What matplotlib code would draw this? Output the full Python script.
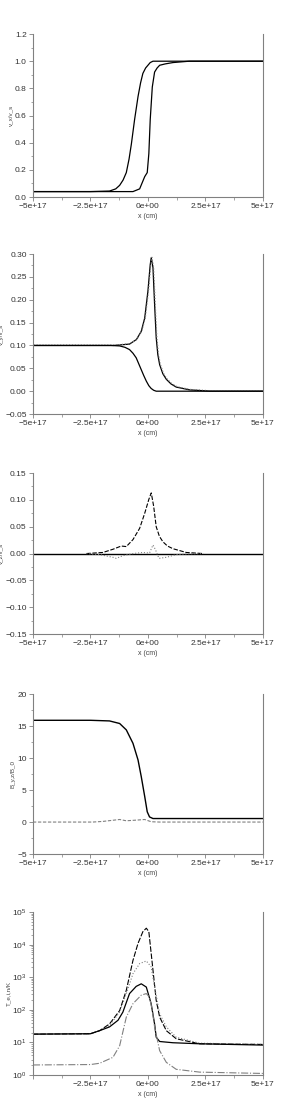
import matplotlib
matplotlib.use("Agg")
import matplotlib.pyplot as plt
from matplotlib.ticker import MultipleLocator, FixedLocator, LogLocator, NullFormatter
import numpy as np

# x positions in units of 1e17 cm
# panel 1: v_x / v_s
x1a = [-5.0, -2.5, -1.67, -1.4, -1.23, -1.08, -0.94, -0.82, -0.72, -0.58, -0.43, -0.32, -0.22, -0.1, 0.0, 0.1, 0.22, 1.0, 5.0]
v1a = [0.04, 0.04, 0.044, 0.06, 0.086, 0.125, 0.18, 0.28, 0.39, 0.57, 0.74, 0.84, 0.91, 0.95, 0.97, 0.99, 1.0, 1.0, 1.0]
x1b = [-5.0, -1.5, -0.65, -0.36, -0.14, -0.03, 0.04, 0.10, 0.19, 0.29, 0.4, 0.51, 0.75, 1.09, 1.8, 5.0]
v1b = [0.04, 0.04, 0.04, 0.06, 0.15, 0.18, 0.32, 0.57, 0.81, 0.92, 0.95, 0.97, 0.98, 0.99, 1.0, 1.0]

# panel 2: v_y / v_s
x2a = [-5.0, -1.5, -0.8, -0.5, -0.29, -0.14, 0.0, 0.10, 0.145, 0.22, 0.29, 0.36, 0.43, 0.51, 0.65, 0.8, 1.0, 1.23, 1.8, 2.7, 5.0]
v2a = [0.1, 0.1, 0.103, 0.113, 0.131, 0.16, 0.219, 0.277, 0.292, 0.27, 0.19, 0.117, 0.08, 0.058, 0.038, 0.026, 0.016, 0.009, 0.003, 0.0, 0.0]
x2b = [-5.0, -1.6, -1.23, -1.0, -0.8, -0.65, -0.51, -0.4, -0.29, -0.18, -0.07, 0.04, 0.14, 0.25, 0.36, 5.0]
v2b = [0.1, 0.1, 0.099, 0.096, 0.091, 0.083, 0.073, 0.06, 0.047, 0.034, 0.022, 0.012, 0.006, 0.002, 0.0, 0.0]

# panel 3: v_z / v_s
x3 = [-5.0, 5.0]
v3 = [0.0, 0.0]
x3a = [-2.68, -1.96, -1.52, -1.16, -0.94, -0.65, -0.36, -0.14, 0.04, 0.145, 0.25, 0.36, 0.5, 0.65, 0.85, 1.09, 1.67, 2.4]
v3a = [0.0, 0.002, 0.008, 0.014, 0.013, 0.026, 0.047, 0.075, 0.101, 0.113, 0.088, 0.05, 0.032, 0.022, 0.014, 0.009, 0.002, 0.0]
x3b = [-2.68, -2.1, -1.52, -1.38, -1.09, -0.65, -0.22, 0.07, 0.22, 0.33, 0.48, 0.8, 1.23, 1.8, 2.4]
v3b = [0.0, -0.002, -0.007, -0.009, -0.004, 0.0, 0.002, 0.001, 0.016, 0.007, -0.009, -0.007, -0.002, -0.0005, 0.0]

# panel 4: B_y,z / B_0
x4a = [-5.0, -2.5, -1.67, -1.23, -0.94, -0.65, -0.43, -0.29, -0.14, -0.03, 0.07, 0.22, 5.0]
b4a = [15.9, 15.9, 15.8, 15.4, 14.4, 12.3, 9.7, 7.1, 4.0, 1.6, 0.8, 0.55, 0.55]
x4b = [-5.0, -2.4, -1.96, -1.23, -0.94, -0.51, -0.14, 0.14, 0.5, 5.0]
b4b = [0.0, 0.0, 0.1, 0.4, 0.2, 0.3, 0.4, 0.05, 0.0, 0.0]

# panel 5: temperatures (K)
x5a = [-5.0, -2.5, -2.1, -1.67, -1.23, -0.94, -0.65, -0.43, -0.22, -0.07, 0.04, 0.19, 0.36, 0.51, 0.8, 1.23, 2.25, 5.0]
t5a = [18, 18.5, 23, 37, 95, 400, 3300, 11000, 25000, 32000, 25000, 2600, 195, 60, 23, 13, 9.1, 8.7]
x5b = [-5.0, -2.5, -2.1, -1.67, -1.23, -0.94, -0.65, -0.36, -0.07, 0.14, 0.29, 0.51, 0.8, 1.23, 2.25, 5.0]
t5b = [18, 18.5, 23, 33, 85, 316, 1290, 2630, 3160, 2090, 500, 76, 30, 14.5, 9.5, 8.7]
x5c = [-5.0, -2.5, -2.1, -1.67, -1.3, -1.09, -0.8, -0.51, -0.29, -0.07, 0.14, 0.29, 0.36, 0.51, 1.09, 2.25, 5.0]
t5c = [18, 18.5, 23, 30, 48, 85, 316, 525, 630, 500, 155, 37, 14.5, 10.7, 9.8, 9.1, 8.3]
x5d = [-5.0, -2.5, -2.1, -1.52, -1.23, -0.94, -0.65, -0.29, -0.07, 0.07, 0.19, 0.29, 0.51, 0.8, 1.23, 2.25, 5.0]
t5d = [2.04, 2.1, 2.3, 3.5, 7.9, 60, 155, 282, 316, 245, 95, 30, 5.6, 2.45, 1.5, 1.23, 1.12]

ylabels = ["v_x/v_s", "v_y/v_s", "v_z/v_s", "B_y,z/B_0", "T_e,i,n/K"]
xticks = [-5e17, -2.5e17, 0, 2.5e17, 5e17]
xticklabels = ["\u22125e+17", "\u22122.5e+17", "0e+00", "2.5e+17", "5e+17"]

grey = "#808080"
plt.rcParams["font.family"] = ["Liberation Sans", "DejaVu Sans"]
plt.rcParams["font.size"] = 6

fig = plt.figure(figsize=(3.05, 11.05), dpi=100)
boxes = [(0.8217, 0.1475), (0.6253, 0.1448), (0.4262, 0.1457), (0.2271, 0.1448), (0.0271, 0.1475)]
axes = [fig.add_axes([0.108, b, 0.754, h]) for b, h in boxes]

def S(x):
    return np.array(x) * 1e17

ax = axes[0]
ax.plot(S(x1a), v1a, color="black", lw=0.9)
ax.plot(S(x1b), v1b, color="black", lw=0.9)
ax.set_ylim(0, 1.2)
ax.yaxis.set_major_locator(MultipleLocator(0.2))
ax.yaxis.set_minor_locator(MultipleLocator(0.1))

ax = axes[1]
ax.plot(S(x2a), v2a, color="black", lw=0.9)
ax.plot(S(x2a) + 0.03e17, np.array(v2a) + 0.001, color=grey, lw=0.8, ls=":")
ax.plot(S(x2b), v2b, color="black", lw=0.9)
ax.set_ylim(-0.05, 0.30)
ax.yaxis.set_major_locator(MultipleLocator(0.05))
ax.yaxis.set_minor_locator(MultipleLocator(0.025))

ax = axes[2]
ax.plot(S(x3), v3, color="black", lw=1.0)
ax.plot(S(x3a), v3a, color="black", lw=0.8, ls=(0, (4, 1.5)))
ax.plot(S(x3b), v3b, color=grey, lw=0.8, ls=":")
ax.set_ylim(-0.15, 0.15)
ax.yaxis.set_major_locator(MultipleLocator(0.05))
ax.yaxis.set_minor_locator(MultipleLocator(0.025))

ax = axes[3]
ax.plot(S(x4a), b4a, color="black", lw=1.0)
ax.plot(S(x4b), b4b, color=grey, lw=0.8, ls=(0, (3, 1.5)))
ax.set_ylim(-5, 20)
ax.yaxis.set_major_locator(MultipleLocator(5))
ax.yaxis.set_minor_locator(MultipleLocator(2.5))

ax = axes[4]
ax.plot(S(x5a), t5a, color="black", lw=0.8, ls=(0, (5, 1.5)))
ax.plot(S(x5b), t5b, color=grey, lw=0.8, ls=":")
ax.plot(S(x5c), t5c, color="black", lw=0.9)
ax.plot(S(x5d), t5d, color=grey, lw=0.8, ls="-.")
ax.set_yscale("log")
ax.set_ylim(1, 1e5)
ax.yaxis.set_major_locator(LogLocator(base=10, numticks=10))
ax.yaxis.set_minor_locator(LogLocator(base=10, subs=np.arange(2, 10), numticks=10))
ax.yaxis.set_minor_formatter(NullFormatter())

for i, ax in enumerate(axes):
    ax.set_xlim(-5e17, 5e17)
    ax.set_xticks(xticks)
    labs = list(xticklabels)
    if i == 4:
        labs[0] = ""
    ax.set_xticklabels(labs)
    ax.xaxis.set_minor_locator(FixedLocator([-3.75e17, -1.25e17, 1.25e17, 3.75e17]))
    ax.spines["top"].set_visible(False)
    for s in ("left", "bottom", "right"):
        ax.spines[s].set_color(grey)
        ax.spines[s].set_linewidth(0.8)
    ax.tick_params(which="major", direction="out", length=3, width=0.6, colors=grey,
                   labelcolor="#333333", labelsize=6, pad=1.5)
    ax.tick_params(which="minor", direction="out", length=1.8, width=0.5, colors=grey)
    ax.tick_params(axis="y", right=False)
    ax.set_xlabel("x (cm)", fontsize=5, color="#444444", labelpad=2)
    ax.set_ylabel(ylabels[i], fontsize=4.5, color="#444444", labelpad=1)

fig.savefig("out.png", dpi=100)
